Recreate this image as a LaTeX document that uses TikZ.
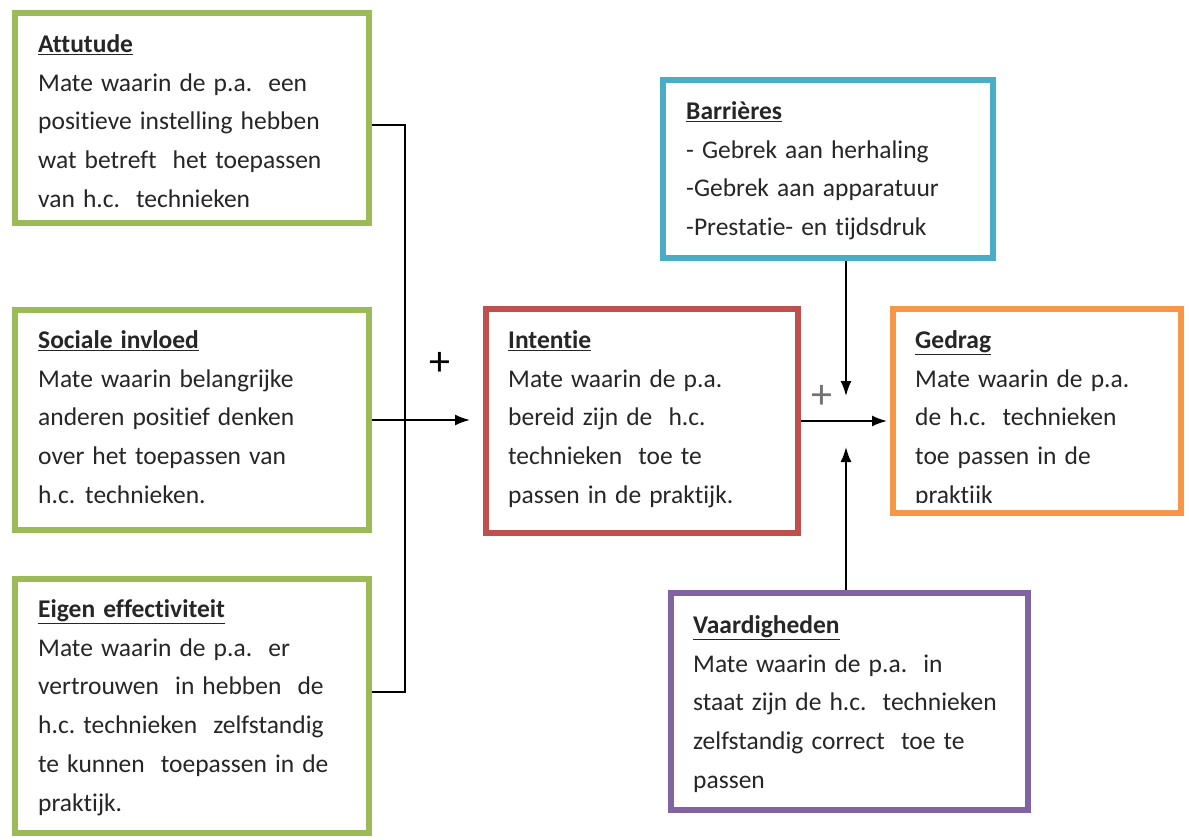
\documentclass[tikz,border=0pt]{standalone}
\usepackage{fontspec}
\setmainfont{Carlito}[RawFeature={-liga}, WordSpace=1.4]
\usetikzlibrary{arrows.meta}
\definecolor{cgreen}{HTML}{9BBB59}
\definecolor{cred}{HTML}{C0504D}
\definecolor{ccyan}{HTML}{4BACC6}
\definecolor{corange}{HTML}{F79646}
\definecolor{cpurple}{HTML}{8064A2}
\newcommand{\hd}[1]{\textbf{\underline{#1}}}
\tikzset{
  box/.style={draw, line width=6pt, rectangle, inner sep=0pt},
  txt/.style={anchor=north west, align=left, inner sep=0pt, text=black!85,
    font=\fontsize{25.5}{38.8}\selectfont},
  conn/.style={line width=1.8pt, black},
  arr/.style={conn, -{Latex[length=15pt,width=11pt]}},
  plus/.style={font=\fontsize{42}{42}\selectfont\rmfamily, inner sep=0pt}
}
\newcommand{\st}{\rule{0pt}{22pt}}
\begin{document}
\begin{tikzpicture}[x=1pt,y=-1pt]
\useasboundingbox[fill=white] (0,0) rectangle (1189,839);
% boxes
\node[box, cgreen, minimum width=354pt, minimum height=210pt] (att) at (192,118) {};
\node[box, cgreen, minimum width=354pt, minimum height=220pt] (soc) at (192,420) {};
\node[box, cgreen, minimum width=354pt, minimum height=254pt] (eig) at (192,706) {};
\node[box, cred, minimum width=312pt, minimum height=224pt] (int) at (642,421) {};
\node[box, ccyan, minimum width=330pt, minimum height=178pt] (bar) at (828,169) {};
\node[box, corange, minimum width=288pt, minimum height=204pt] (ged) at (1037,411) {};
\node[box, cpurple, minimum width=357pt, minimum height=217pt] (vaa) at (849.5,701.5) {};
% texts
\node[txt] (tatt) at (38,30) {\st\hd{Attutude}\\Mate waarin de p.a.\ \ een\\positieve instelling hebben\\wat betreft\ \ het toepassen\\van h.c.\ \ technieken};
\node[txt] (tsoc) at (38,326) {\st\hd{Sociale invloed}\\Mate waarin belangrijke\\anderen positief denken\\over het toepassen van\\h.c. technieken.};
\node[txt] (teig) at (38,595) {\st\hd{Eigen effectiviteit}\\Mate waarin de p.a.\ \ er\\vertrouwen\ \ in hebben\ \ de\\h.c.\ technieken\ \ zelfstandig\\te kunnen\ \ toepassen in de\\praktijk.};
\node[txt] (tint) at (508,326) {\st\hd{Intentie}\\Mate waarin de p.a.\\bereid zijn de\ \ h.c.\\technieken\ \ toe te\\passen in de praktijk.};
\node[txt] (tbar) at (686,97) {\st\hd{Barrières}\\- Gebrek aan herhaling\\-Gebrek aan apparatuur\\-Prestatie- en tijdsdruk};
\begin{scope}
\clip (896,312) rectangle (1178,502);
\node[txt] (tged) at (915,326) {\st\hd{Gedrag}\\Mate waarin de p.a.\\de h.c.\ \ technieken\\toe passen in de\\praktijk};
\end{scope}
\node[txt] (tvaa) at (693,611) {\st\hd{Vaardigheden}\\Mate waarin de p.a.\ \ in\\staat zijn de h.c.\ \ technieken\\zelfstandig correct\ \ toe te\\passen};
% connectors
\coordinate (j1) at (405,125);
\coordinate (j2) at (405,692);
\coordinate (bt) at (846,396);
\coordinate (vt) at (846,447);
\draw[conn] (att.east |- j1) -- (j1) -- (j2) -- (eig.east |- j2);
\draw[arr, shorten >=13pt] (soc.east) -- (int.west |- soc.east);
\draw[arr, shorten >=3pt] (int.east) -- (ged.west |- int.east);
\draw[arr] (bar.south -| bt) -- (bt);
\draw[arr] (vaa.north -| vt) -- (vt);
\node[plus] (p1) at (440,364) {+};
\node[plus, text=black!55] (p2) at (822,397) {+};
\end{tikzpicture}
\end{document}
